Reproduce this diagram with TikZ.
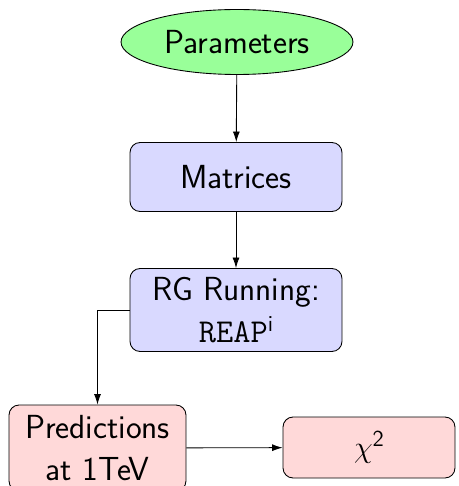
\documentclass[tikz,border=0pt]{standalone}
\usetikzlibrary{shapes.geometric,arrows.meta}

\newcommand{\supsf}[1]{\raisebox{0.75ex}{\fontsize{13}{15}\selectfont\sffamily #1}}

\begin{document}
\begin{tikzpicture}[x=0.02cm, y=-0.02cm,
	font=\sffamily\fontsize{19}{24}\selectfont,
	startnode/.style={ellipse, draw, fill=green!40, minimum width=4.64cm, minimum height=1.3cm},
	stepbox/.style={rectangle, rounded corners=0.2cm, draw, fill=blue!15, minimum width=4.24cm, align=center},
	outbox/.style={rectangle, rounded corners=0.2cm, draw, fill=red!15, align=center},
	every path/.style={-{Latex[length=6pt,width=4pt]}, line width=0.5pt}]
%Fixed page size:
\useasboundingbox (0,0) rectangle (458,486);

%Nodes:
\node [startnode] (params) at (237,42) {Parameters};
\node [stepbox, minimum height=1.38cm] (mat) at (236,177) {Matrices};
\node [stepbox, minimum height=1.66cm] (rg) at (236,310) {RG Running:\\ \texttt{REAP}\supsf{i}};
\node [outbox, minimum width=3.54cm, minimum height=1.72cm] (pred) at (97.5,448) {Predictions\\ at 1TeV};
\node [outbox, minimum width=3.44cm, minimum height=1.22cm] (chisq) at (369,447.5) {$\chi$\supsf{2}};

%Connectors:
\foreach \a/\b in {params/mat, mat/rg, pred/chisq}
	\draw (\a) -- (\b);
\draw (rg.west) -| (pred.north);

\end{tikzpicture}
\end{document}
